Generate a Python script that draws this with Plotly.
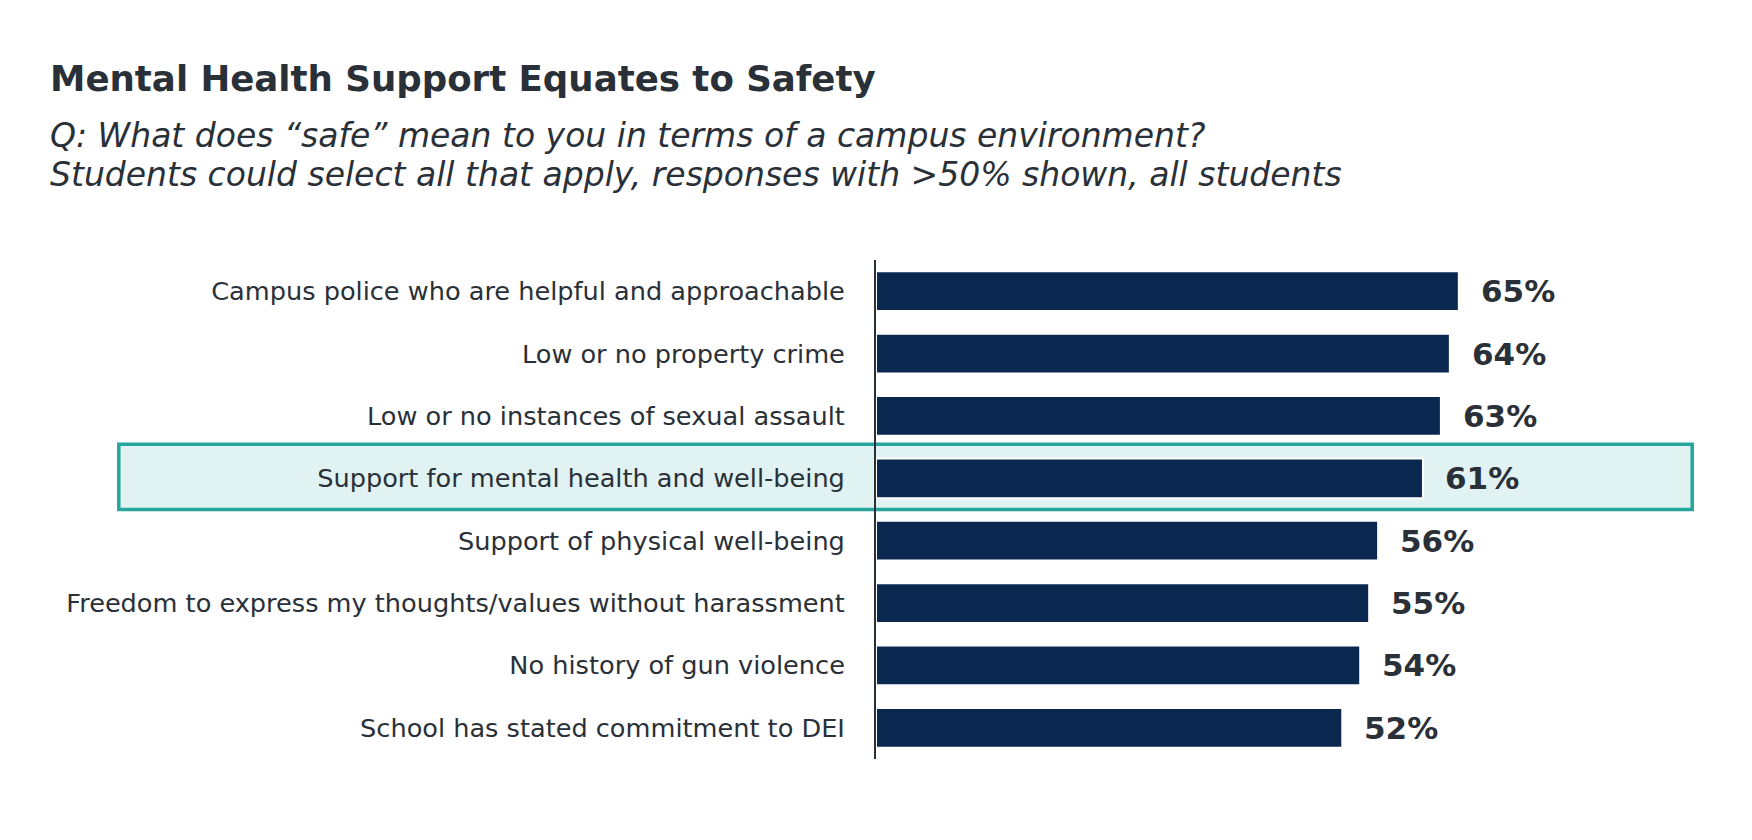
import plotly.graph_objects as go

categories = [
    "Campus police who are helpful and approachable",
    "Low or no property crime",
    "Low or no instances of sexual assault",
    "Support for mental health and well-being",
    "Support of physical well-being",
    "Freedom to express my thoughts/values without harassment",
    "No history of gun violence",
    "School has stated commitment to DEI",
]
values = [65, 64, 63, 61, 56, 55, 54, 52]
highlight = "Support for mental health and well-being"

title_text = "Mental Health Support Equates to Safety"
subtitle_lines = [
    "Q: What does \u201csafe\u201d mean to you in terms of a campus environment?",
    "Students could select all that apply, responses with >50% shown, all students",
]

W, H = 1752, 840
ML, MR, MT, MB = 868, 77, 251.5, 89.2
PW = W - ML - MR
PH = H - MT - MB
XMAX = 90

def px(xp):
    return (xp - ML) / PW

def py(yp):
    return (H - MB - yp) / PH

TEXT = "#2a3038"
BAR = "#0a2850"
FONT = "DejaVu Sans"

fig = go.Figure()
fig.add_trace(go.Bar(
    x=values, y=categories, orientation="h",
    marker=dict(color=BAR, line=dict(color="white", width=2)),
    width=0.636, hoverinfo="skip",
))

hi = categories.index(highlight)
fig.add_shape(type="rect", xref="paper", yref="y",
              x0=px(110.8), x1=px(1684.2), y0=hi - 0.547, y1=hi + 0.502,
              fillcolor="#e0f2f2", line=dict(color="#26a69d", width=3.5),
              layer="below")

annotations = []
for c, v in zip(categories, values):
    annotations.append(dict(
        x=v, y=c, xref="x", yref="y", text=f"<b>{v}%</b>",
        showarrow=False, xanchor="left", yanchor="middle", xshift=20,
        font=dict(family=FONT, size=31, color=TEXT),
    ))
annotations.append(dict(
    x=px(40), y=py(47.5), xref="paper", yref="paper", text=f"<b>{title_text}</b>",
    showarrow=False, xanchor="left", yanchor="top",
    font=dict(family=FONT, size=35.6, color=TEXT),
))
for line, ytop in zip(subtitle_lines, [105.4, 144.4]):
    annotations.append(dict(
        x=px(40), y=py(ytop), xref="paper", yref="paper",
        text=f"<i>{line}</i>",
        showarrow=False, xanchor="left", yanchor="top", align="left",
        font=dict(family=FONT, size=33, color=TEXT),
    ))

fig.update_layout(
    width=W, height=H,
    margin=dict(l=ML, r=MR, t=MT, b=MB, pad=0),
    paper_bgcolor="white", plot_bgcolor="rgba(0,0,0,0)",
    showlegend=False,
    annotations=annotations,
    xaxis=dict(range=[0, XMAX], visible=False, showgrid=False, zeroline=False),
    yaxis=dict(
        categoryorder="array", categoryarray=categories, autorange="reversed",
        showline=True, linecolor=TEXT, linewidth=2, showgrid=False,
        ticks="", ticklabelstandoff=24,
        tickfont=dict(family=FONT, size=25.6, color=TEXT),
    ),
)

fig.write_html("out.html")
